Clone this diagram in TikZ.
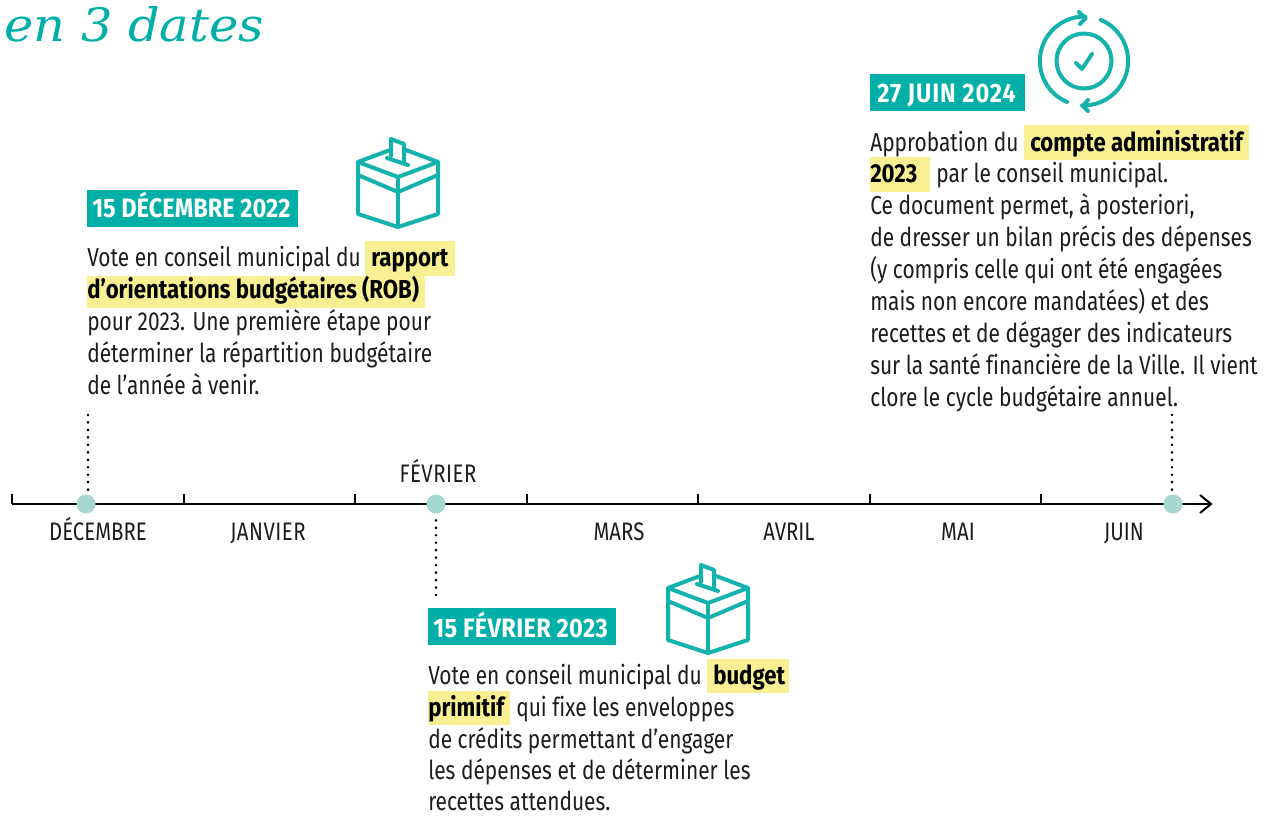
\documentclass[tikz,border=0pt]{standalone}
\usepackage{fontspec}
\setmainfont[FakeStretch=0.805,Ligatures=NoCommon]{Fira Sans}
\newfontfamily\strongfont[FakeStretch=0.853,Ligatures=NoCommon]{Fira Sans}
\newfontfamily\datefont[FakeStretch=0.884]{Fira Sans}
\newfontfamily\titlefont[FakeStretch=1.075]{DejaVu Serif}
\definecolor{teal}{HTML}{00B0A8}
\definecolor{tealb}{HTML}{14B2AC}
\definecolor{hl}{HTML}{F9F094}
\definecolor{dotc}{HTML}{A6D7D3}
\definecolor{ink}{HTML}{1D1D1B}
\tikzset{
 x=0.75pt,y=-0.75pt,
 body/.style={anchor=base west,inner sep=0pt,text=ink,font=\fontsize{19.5pt}{22pt}\selectfont},
 strong/.style={anchor=base west,inner sep=0pt,font=\strongfont\fontsize{19.5pt}{22pt}\selectfont\bfseries,text=black},
 month/.style={anchor=base,inner sep=0pt,text=ink,font=\fontsize{19pt}{22pt}\selectfont},
 datetext/.style={anchor=base west,inner sep=0pt,text=white,font=\datefont\fontsize{20pt}{22pt}\selectfont\bfseries},
 axis/.style={line width=1.5pt,black},
 tickm/.style={line width=1.3pt,black},
 dotm/.style={circle,fill=dotc,minimum size=14.25pt,inner sep=0pt},
 leader/.style={line width=2.2pt,black,line cap=round,dash pattern=on 0pt off 5.6pt},
 icon/.style={draw=tealb,line width=3pt,line join=round,line cap=round},
}
\newcommand{\ballotbox}[1]{%
\begin{scope}[shift={#1},icon]
 \draw (0,0) -- (40,-15) -- (80,0) -- (40,15) -- cycle;
 \draw (0,0) -- (0,52) -- (40,65) -- (80,52) -- (80,0);
 \draw (40,15) -- (40,65);
 \draw (0,13) -- (40,30) -- (80,13);
 \fill[white,draw=none] (33,-23) -- (46,-18) -- (46,0) -- (33,-6) -- cycle;
 \draw (33,-6) -- (33,-23) -- (46,-18) -- (46,0);
 \draw (29,-4) -- (50,3);
\end{scope}}
\begin{document}
\begin{tikzpicture}
\useasboundingbox (0,0) rectangle (1268,816);
\fill[white] (0,0) rectangle (1268,816);
% title
\node[anchor=base west,inner sep=0pt,text=teal,font=\titlefont\itshape\fontsize{34.5pt}{40pt}\selectfont] (title) at (4,42) {en 3 dates};
% axis
\coordinate (axisL) at (12,504);
\coordinate (axisR) at (1211,504);
\draw[axis] (axisL) -- (axisR);
\draw[axis] (1200,495) -- (axisR) -- (1200,513);
\foreach \x in {12,184,355,527,698,870,1041}{\draw[tickm] (\x,504) -- (\x,494);}
% dots
\coordinate (l1) at (88,415);
\coordinate (l2) at (436,595);
\coordinate (l3) at (1172,415);
\node[dotm] (d1) at (86,504) {};
\node[dotm] (d2) at (436,504) {};
\node[dotm] (d3) at (1173,504) {};
\draw[leader] (l1) -- (88,495);
\draw[leader] (l2) -- (436,517);
\draw[leader] (l3) -- (1172,495);
% months
\node[month] (m1) at (98,541) {DÉCEMBRE};
\node[month] (m2) at (268,541) {\addfontfeature{LetterSpace=2}JANVIER};
\node[month] (m3) at (438,483) {\addfontfeature{LetterSpace=2}FÉVRIER};
\node[month] (m4) at (619,541) {MARS};
\node[month] (m5) at (789,541) {AVRIL};
\node[month] (m6) at (958,541) {MAI};
\node[month] (m7) at (1124,541) {JUIN};
% block 1
\fill[teal] (87,190) rectangle (298,227);
\node[datetext] (t1) at (92,218) {15 DÉCEMBRE 2022};
\ballotbox{(358,162)}
\fill[hl] (365,241) rectangle (455,276);
\fill[hl] (87,276) rectangle (425,308);
\node[body] (a1) at (87,267) {Vote en conseil municipal du};
\node[strong] (a1b) at (371,267) {rapport};
\node[strong] (a2) at (87,299) {d’orientations budgétaires (ROB)};
\node[body] (a3) at (87,331) {pour 2023. Une première étape pour};
\node[body] (a4) at (87,363) {déterminer la répartition budgétaire};
\node[body] (a5) at (87,395) {de l’année à venir.};
% block 2
\fill[teal] (428,608) rectangle (616,645);
\node[datetext] (t2) at (433,637) {\addfontfeature{LetterSpace=1.25}15 FÉVRIER 2023};
\ballotbox{(668,588)}
\fill[hl] (707,659) rectangle (789,693);
\fill[hl] (428,691) rectangle (510,725);
\node[body] (b1) at (428,684) {Vote en conseil municipal du};
\node[strong] (b1b) at (713,684) {budget};
\node[strong] (b2) at (428,716) {primitif};
\node[body] (b2b) at (516,716) {qui fixe les enveloppes};
\node[body] (b3) at (428,748) {de crédits permettant d’engager};
\node[body] (b4) at (428,779) {les dépenses et de déterminer les};
\node[body] (b5) at (428,810) {recettes attendues.};
% block 3
\fill[teal] (870,74) rectangle (1025,111);
\node[datetext] (t3) at (877,103) {\addfontfeature{LetterSpace=3.5}27 JUIN 2024};
\begin{scope}[icon]
 \draw (1084,61) circle (27.5);
 \draw (1076,63) -- (1082,69) -- (1092,54);
 \draw (1067,102) arc (113:271:44.5);
 \draw (1079,12) -- (1085.5,18.3) -- (1080,24);
 \draw (1101,20) arc (-67:92:44.5);
 \draw (1088,100) -- (1083,106) -- (1088,111);
\end{scope}
\fill[hl] (1024,125) rectangle (1249,160);
\fill[hl] (870,157) rectangle (930,192);
\node[body] (c1) at (870,152) {Approbation du};
\node[strong] (c1b) at (1030,152) {compte administratif};
\node[strong] (c2) at (870,183) {2023};
\node[body] (c2b) at (936,183) {par le conseil municipal.};
\node[body] (c3) at (870,215) {Ce document permet, à posteriori,};
\node[body] (c4) at (870,247) {de dresser un bilan précis des dépenses};
\node[body] (c5) at (870,279) {(y compris celle qui ont été engagées};
\node[body] (c6) at (870,311) {mais non encore mandatées) et des};
\node[body] (c7) at (870,343) {recettes et de dégager des indicateurs};
\node[body] (c8) at (870,375) {sur la santé financière de la Ville. Il vient};
\node[body] (c9) at (870,407) {clore le cycle budgétaire annuel.};
\end{tikzpicture}
\end{document}
